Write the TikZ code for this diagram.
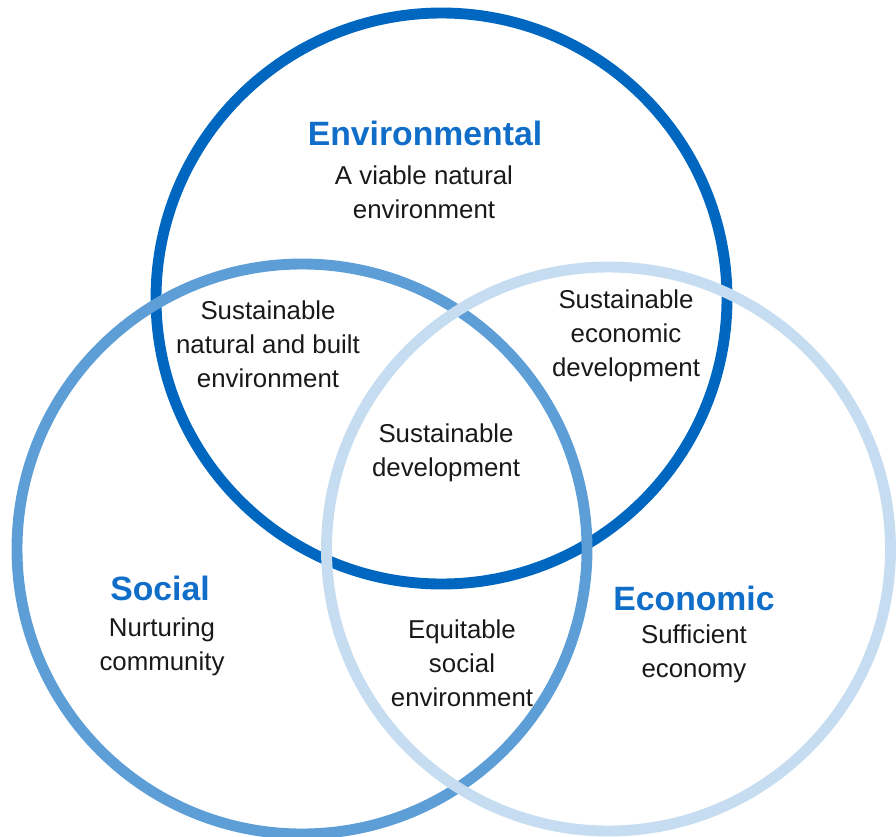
\documentclass[tikz,border=0pt]{standalone}
\usepackage{fontspec}
\setmainfont{Liberation Sans}
\usepackage{tikz}
\usetikzlibrary{positioning}
\definecolor{envblue}{RGB}{0,103,192}
\definecolor{socblue}{RGB}{94,158,214}
\definecolor{ecoblue}{RGB}{197,220,241}
\definecolor{headblue}{RGB}{16,110,200}

\begin{document}
\begin{tikzpicture}[
    ring/.style={line width=6.2pt},
    head/.style={font=\fontsize{19.2}{23}\selectfont\bfseries, text=headblue},
    desc/.style={font=\fontsize{14.7}{19.3}\selectfont, align=center, text=black!90}
]
    \useasboundingbox (0,0) rectangle (17.92,-16.74);

    % Circle centres
    \coordinate (envc) at (8.83,-5.97);
    \coordinate (socc) at (6.04,-10.98);
    \coordinate (ecoc) at (12.17,-10.98);

    % Circles
    \draw[ring, envblue] (envc) circle (5.71);
    \draw[ring, socblue] (socc) circle (5.70);
    \draw[ring, ecoblue] (ecoc) circle (5.64);

    % Headings
    \node[head] (envhead) at (8.50,-2.66) {Environmental};
    \node[head] (sochead) at (3.20,-11.76) {Social};
    \node[head] (ecohead) at (13.88,-11.96) {Economic};

    % Descriptions
    \node[desc] (envdesc) at (8.48,-3.84) {A viable natural\\environment};
    \node[desc] (socdesc) at (3.24,-12.93) {Nurturing\\community};
    \node[desc] (ecodesc) at (13.88,-13.07) {Sufficient\\economy};

    % Overlaps
    \node[desc] (envsoc) at (5.36,-6.89) {Sustainable\\natural and built\\environment};
    \node[desc] (enveco) at (12.52,-6.71) {Sustainable\\economic\\development};
    \node[desc] (soceco) at (9.24,-13.27) {Equitable\\social\\environment};
    \node[desc] (allthree) at (8.92,-9.06) {Sustainable\\development};
\end{tikzpicture}
\end{document}
